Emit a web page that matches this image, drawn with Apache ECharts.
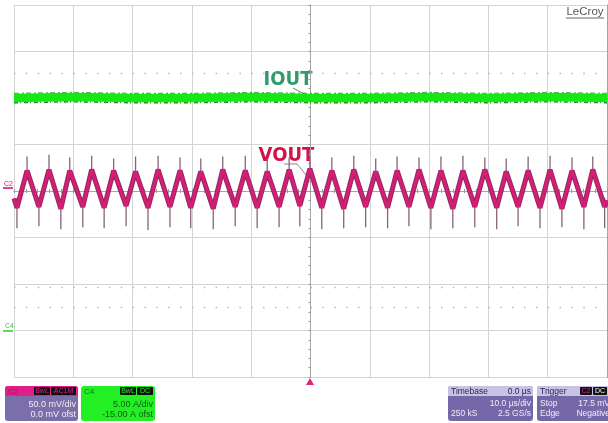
<!DOCTYPE html>
<html><head><meta charset="utf-8">
<script src="https://cdn.jsdelivr.net/npm/echarts@6/dist/echarts.min.js"></script>
<style>html,body{margin:0;padding:0;background:#fff}#c{width:608px;height:423px}</style>
</head><body><div id="c"></div>
<script>
// ---- data ----
// time in microseconds (10 us/div, trigger at 0), VOUT in mV (50 mV/div), IOUT in A (5 A/div, -15 A offset)
const vStart = [-50, -8];
const vEnd = [50, -10];
const peakT = [-47.8,-44.1,-40.6,-36.9,-33.2,-29.5,-25.7,-22.0,-18.5,-14.8,-11.0,-7.3,-3.6,-0.1,3.6,7.3,11.0,14.6,18.3,22.0,25.7,29.4,33.0,36.7,40.4,44.1,47.6];
const peakV = [22,23,22,23,22,21,23,22,21,23,22,21,23,24,22,23,21,22,23,22,22,23,21,22,23,22,23];
const peakSpike = [37,39,36,38,35,37,38,36,35,37,38,35,36,37,36,38,35,37,36,37,38,36,35,37,38,36,37];
const troughT = [-49.5,-45.8,-42.1,-38.4,-34.8,-31.1,-27.4,-23.7,-20.2,-16.4,-12.7,-9.0,-5.3,-1.8,1.9,5.6,9.3,13.0,16.6,20.3,24.0,27.7,31.4,35.0,38.7,42.4,46.1,49.6];
const troughV = [-18,-17,-19,-17,-18,-16,-18,-17,-18,-19,-17,-18,-17,-16,-18,-19,-17,-18,-17,-18,-19,-17,-18,-17,-18,-19,-17,-17];
const troughSpike = [-40,-38,-41,-39,-40,-38,-42,-39,-40,-41,-38,-40,-39,-38,-41,-40,-39,-40,-38,-41,-40,-39,-41,-38,-40,-39,-41,-40];
const iT = [-50,-40,-30,-20,-10,0,10,20,30,40,50];
const iV = [25.0,25.1,25.0,25.0,25.1,25.0,25.0,25.1,25.0,25.1,25.0];
const refLevels = [127, -104, -125]; // faint dotted reference rows, mV
const xTicks = {min:-50, max:50, step:10};
const yTicksV = {min:-200, max:200, step:50};
const yTicksI = {min:-5, max:35, step:5};

// ---- build series data ----
const vout = [vStart];
for (let k = 0; k < troughT.length; k++) {
  vout.push([troughT[k], troughV[k]]);
  if (k < peakT.length) vout.push([peakT[k], peakV[k]]);
}
vout.push(vEnd);
const spikes = [];
peakT.forEach((t, k) => { spikes.push([t, peakSpike[k]], [t, peakV[k] - 8], [t, '-']); });
troughT.forEach((t, k) => { spikes.push([t, troughSpike[k]], [t, troughV[k] + 10], [t, '-']); });
const iout = iT.map((t, k) => [t, iV[k]]);
const ioutLo = iT.map((t, k) => [t, iV[k] - 0.5]);
const ioutHi = iT.map((t, k) => [t, iV[k] + 0.5]);

const chart = echarts.init(document.getElementById('c'), null, {renderer:'canvas'});
const gridCol = '#d4d4d4';
const mkBox = (x, y, w, h, head, body, r) => [
  {type:'rect', shape:{x, y, width:w, height:h, r:r||3}, style:{fill:body}},
  {type:'rect', shape:{x, y, width:w, height:10, r:[r||3, r||3, 0, 0]}, style:{fill:head}}
];
const txt = (t, x, y, fill, size, align, weight, family) => ({type:'text', style:{text:t, x, y, fill, font:(weight||'normal') + ' ' + size + 'px ' + (family||'"Liberation Sans", Arial, sans-serif'), textAlign:align||'left', textVerticalAlign:'middle'}});
const tag = (t, x, y, w, col) => [
  {type:'rect', shape:{x, y, width:w, height:8, r:1}, style:{fill:'#111'}},
  txt(t, x + w/2, y + 4.3, col, 7, 'center')
];
const axisCommon = {
  axisLine:{show:true, onZero:true, lineStyle:{color:'#a5a5a5', width:1}},
  axisTick:{show:true, inside:false, length:2, lineStyle:{color:'#999'}},
  minorTick:{show:true, splitNumber:5, length:2, lineStyle:{color:'#999'}},
  axisLabel:{show:false}
};

const option = {
  animation:false,
  backgroundColor:'#ffffff',
  grid:{left:14, right:1, top:5, bottom:46, containLabel:false},
  xAxis:[
    Object.assign({type:'value', min:xTicks.min, max:xTicks.max, interval:xTicks.step, position:'bottom',
     splitLine:{show:true, lineStyle:{color:gridCol, width:1}}}, axisCommon,
     {axisLine:{show:true, onZero:true, onZeroAxisIndex:0, lineStyle:{color:'#a5a5a5', width:1}}}),
    Object.assign({type:'value', min:xTicks.min, max:xTicks.max, interval:xTicks.step, position:'top',
     splitLine:{show:false}}, axisCommon,
     {axisLine:{show:true, onZero:true, onZeroAxisIndex:0, lineStyle:{color:'#a5a5a5', width:1}}})
  ],
  yAxis:[
    Object.assign({type:'value', min:yTicksV.min, max:yTicksV.max, interval:yTicksV.step, position:'left',
     splitLine:{show:true, lineStyle:{color:gridCol, width:1}}}, axisCommon),
    {type:'value', min:yTicksI.min, max:yTicksI.max, interval:yTicksI.step, show:false, splitLine:{show:false}},
    Object.assign({type:'value', min:yTicksV.min, max:yTicksV.max, interval:yTicksV.step, position:'right',
     splitLine:{show:false}}, axisCommon)
  ],
  series:[
    {name:'ref', type:'line', xAxisIndex:0, yAxisIndex:0, data:[[0, 0]], symbol:'none', lineStyle:{opacity:0}, silent:true,
     markLine:{silent:true, symbol:'none', label:{show:false},
       lineStyle:{color:'#b8b8b8', width:1.3, type:[1.5, 10.36], dashOffset:0},
       data:refLevels.map(v => ({yAxis:v}))}},
    {name:'IOUT edge lo', type:'line', yAxisIndex:1, data:ioutLo, symbol:'none', z:3,
     lineStyle:{color:'#1c8f1c', width:1.6, type:[4,2,1,3]}},
    {name:'IOUT', type:'line', yAxisIndex:1, data:iout, symbol:'none', z:4,
     lineStyle:{color:'#16e816', width:8.5}},
    {name:'IOUT edge hi', type:'line', yAxisIndex:1, data:ioutHi, symbol:'none', z:5,
     lineStyle:{color:'#2aa82a', width:1.2, type:[5,3,2,2], opacity:0.8}},
    {name:'VOUT spikes', type:'line', yAxisIndex:0, data:spikes, symbol:'none', z:3, connectNulls:false,
     lineStyle:{color:'#876278', width:1.3}},
    {name:'VOUT under', type:'line', yAxisIndex:0, data:vout, symbol:'none', z:4,
     lineStyle:{color:'#9a2a63', width:5}},
    {name:'VOUT', type:'line', yAxisIndex:0, data:vout, symbol:'none', z:5,
     lineStyle:{color:'#da1c78', width:2.6}}
  ],
  graphic:[
    txt('LeCroy', 585, 11.5, '#555', 11.5, 'center'),
    {type:'line', shape:{x1:566, y1:18, x2:604, y2:18}, style:{stroke:'#666', lineWidth:1}},
    {type:'line', shape:{x1:293, y1:88, x2:310, y2:97}, style:{stroke:'#555', lineWidth:0.8}},
    txt('IOUT', 288, 80, '#2f9b69', 20, 'center', 'bold', '"Liberation Sans Narrow", "DejaVu Sans Condensed", sans-serif'),
    {type:'rect', shape:{x:262, y:146, width:50, height:17}, style:{fill:'#fff'}},
    txt('VOUT', 286.5, 156, '#d3124c', 20, 'center', 'bold', '"Liberation Sans Narrow", "DejaVu Sans Condensed", sans-serif'),
    {type:'polyline', shape:{points:[[284,164],[297,164],[308,177]]}, style:{stroke:'#666', lineWidth:0.8, fill:null}},
    txt('C2', 4, 184, '#cc1a72', 7, 'left'),
    {type:'line', shape:{x1:3, y1:188, x2:13, y2:188}, style:{stroke:'#d01a76', lineWidth:1.6}},
    txt('C4', 5, 326, '#33cc33', 7, 'left'),
    {type:'line', shape:{x1:3, y1:331, x2:13, y2:331}, style:{stroke:'#22dd22', lineWidth:1.6}},
    {type:'polygon', shape:{points:[[306,385],[314,385],[310,378]]}, style:{fill:'#e4207a'}},
    ...mkBox(5, 386, 73, 35, '#e0208a', '#7b6fab'),
    txt('C2', 8, 391.5, '#9c1160', 8, 'left'),
    ...tag('BwL', 34, 387, 16, '#e0208a'),
    ...tag('AC1M', 51, 387, 25, '#e0208a'),
    txt('50.0 mV/div', 76, 405, '#f0ecf8', 9, 'right'),
    txt('0.0 mV ofst', 76, 414.5, '#f0ecf8', 9, 'right'),
    {type:'rect', shape:{x:81, y:386, width:74, height:35, r:3}, style:{fill:'#24ee24'}},
    txt('C4', 84, 391.5, '#167016', 8, 'left'),
    ...tag('BwL', 120, 387, 16, '#24ee24'),
    ...tag('DC', 137, 387, 16, '#24ee24'),
    txt('5.00 A/div', 153, 405, '#145814', 9, 'right'),
    txt('-15.00 A ofst', 153, 414.5, '#145814', 9, 'right'),
    ...mkBox(448, 386, 85, 35, '#c9c2e6', '#7468a8'),
    txt('Timebase', 451, 391.5, '#2a2450', 8.5, 'left'),
    txt('0.0 \u00b5s', 531, 391.5, '#2a2450', 8.5, 'right'),
    txt('10.0 \u00b5s/div', 531, 404, '#f0ecf8', 8.5, 'right'),
    txt('250 kS', 451, 414, '#f0ecf8', 8.5, 'left'),
    txt('2.5 GS/s', 531, 414, '#f0ecf8', 8.5, 'right'),
    ...mkBox(537, 386, 75, 35, '#c9c2e6', '#7468a8'),
    txt('Trigger', 540, 391.5, '#2a2450', 8.5, 'left'),
    ...tag('C2', 580, 387, 12, '#e0208a'),
    ...tag('DC', 593, 387, 14, '#ffffff'),
    txt('Stop', 540, 404, '#f0ecf8', 8.5, 'left'),
    txt('17.5 mV', 610, 404, '#f0ecf8', 8.5, 'right'),
    txt('Edge', 540, 414, '#f0ecf8', 8.5, 'left'),
    txt('Negative', 610, 414, '#f0ecf8', 8.5, 'right')
  ]
};
chart.setOption(option);
</script>
</body></html>
